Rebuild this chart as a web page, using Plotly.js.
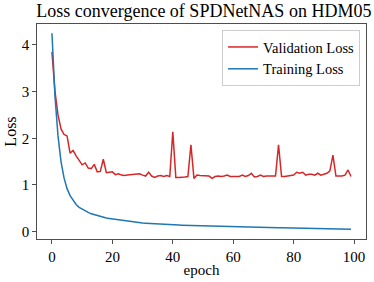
<!DOCTYPE html>
<html>
<head>
<meta charset="utf-8">
<script src="https://cdn.plot.ly/plotly-3.0.1.min.js"></script>
<style>html,body{margin:0;padding:0;background:#fff;}#chart{width:374px;height:282px;}</style>
</head>
<body>
<div id="chart"></div>
<script>
const epochs = Array.from({length: 100}, (_, i) => i);
const validationLoss = [
  3.85, 3.0, 2.5, 2.2, 2.08, 2.05, 1.68, 1.74, 1.62, 1.52,
  1.43, 1.47, 1.36, 1.35, 1.44, 1.28, 1.29, 1.55, 1.26, 1.27,
  1.28, 1.22, 1.24, 1.21, 1.20, 1.21, 1.22, 1.22, 1.23, 1.24,
  1.21, 1.19, 1.27, 1.19, 1.16, 1.19, 1.20, 1.18, 1.20, 1.18,
  2.14, 1.16, 1.16, 1.16, 1.17, 1.18, 1.86, 1.14, 1.21, 1.20,
  1.20, 1.19, 1.19, 1.14, 1.18, 1.19, 1.18, 1.19, 1.21, 1.18,
  1.18, 1.19, 1.18, 1.21, 1.18, 1.20, 1.25, 1.17, 1.18, 1.21,
  1.18, 1.19, 1.19, 1.19, 1.19, 1.86, 1.18, 1.18, 1.19, 1.20,
  1.21, 1.27, 1.25, 1.27, 1.21, 1.23, 1.23, 1.21, 1.25, 1.21,
  1.23, 1.25, 1.30, 1.64, 1.19, 1.19, 1.19, 1.21, 1.32, 1.18
];
const trainingLoss = [
  4.25, 2.9, 2.05, 1.5, 1.15, 0.92, 0.77, 0.66, 0.58, 0.52,
  0.48, 0.44, 0.41, 0.38, 0.36, 0.34, 0.32, 0.31, 0.29, 0.28,
  0.27, 0.26, 0.25, 0.24, 0.23, 0.22, 0.21, 0.205, 0.2, 0.19,
  0.185, 0.18, 0.175, 0.17, 0.165, 0.16, 0.158, 0.155, 0.15, 0.147,
  0.143, 0.14, 0.138, 0.135, 0.133, 0.13, 0.128, 0.125, 0.123, 0.12,
  0.118, 0.117, 0.115, 0.112, 0.11, 0.108, 0.107, 0.105, 0.103, 0.1,
  0.1, 0.098, 0.097, 0.095, 0.093, 0.092, 0.09, 0.089, 0.088, 0.086,
  0.085, 0.084, 0.083, 0.082, 0.081, 0.08, 0.079, 0.078, 0.077, 0.076,
  0.075, 0.074, 0.073, 0.072, 0.071, 0.07, 0.069, 0.068, 0.067, 0.066,
  0.065, 0.064, 0.063, 0.062, 0.06, 0.06, 0.058, 0.057, 0.06, 0.05
];
const xTicks = [0, 20, 40, 60, 80, 100];
const yTicks = [0, 1, 2, 3, 4];

const font = 'Liberation Serif, Times New Roman, serif';
const traces = [
  {x: epochs, y: validationLoss, type: 'scatter', mode: 'lines', name: 'Validation Loss',
   line: {color: '#d62728', width: 1.5}},
  {x: epochs, y: trainingLoss, type: 'scatter', mode: 'lines', name: 'Training Loss',
   line: {color: '#1f77b4', width: 1.5}}
];
const axisCommon = {
  showgrid: false, zeroline: false, showline: true, mirror: true,
  linecolor: '#222', linewidth: 0.8, ticks: 'outside', ticklen: 4, tickwidth: 0.8,
  tickcolor: '#222', tickfont: {family: font, size: 15, color: '#000'}
};
const layout = {
  width: 374, height: 282,
  margin: {l: 37, r: 8, t: 24, b: 43, pad: 0},
  paper_bgcolor: '#fff', plot_bgcolor: '#fff',
  font: {family: font, color: '#000'},
  title: {text: 'Loss convergence of SPDNetNAS on HDM05', font: {family: font, size: 18, color: '#000'},
          x: 0.545, xanchor: 'center', y: 0.985, yanchor: 'top'},
  xaxis: Object.assign({}, axisCommon, {range: [-4.95, 103.95], tickvals: xTicks,
    title: {text: 'epoch', font: {family: font, size: 15, color: '#000'}, standoff: 0}}),
  yaxis: Object.assign({}, axisCommon, {range: [-0.16, 4.45], tickvals: yTicks,
    title: {text: 'Loss', font: {family: font, size: 16, color: '#000'}, standoff: 1}}),
  showlegend: true,
  legend: {x: 0.982, y: 0.972, xanchor: 'right', yanchor: 'top', itemwidth: 30,
    bgcolor: 'rgba(255,255,255,0.8)', bordercolor: '#cccccc', borderwidth: 1,
    font: {family: font, size: 14.5, color: '#000'}, tracegroupgap: 0}
};
Plotly.newPlot('chart', traces, layout, {displayModeBar: false, staticPlot: true});
</script>
</body>
</html>
